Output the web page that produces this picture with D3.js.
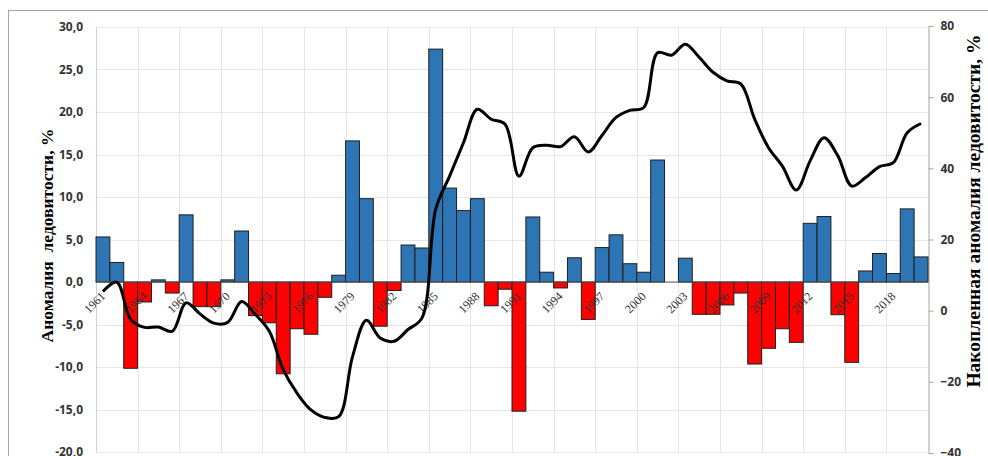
<!DOCTYPE html>
<html>
  <head>
    <meta charset="utf-8" />
    <title>Аномалия ледовитости</title>
    <script src="https://d3js.org/d3.v7.min.js"></script>
    <style>
      body { margin: 0; background: #fff; }
    </style>
  </head>
  <body>
    <svg width="988" height="456"></svg>

    <script>
      // Years 1961-2020
      const years = d3.range(1961, 2021);

      // Annual ice anomaly, % (bars, left axis)
      const anomaly = [
        5.3, 2.3, -10.15, -2.35, 0.25, -1.3, 7.9, -2.9, -2.9, 0.25,
        6.0, -3.95, -4.8, -10.8, -5.5, -6.15, -1.8, 0.8, 16.6, 9.8,
        -5.2, -1.0, 4.35, 4.0, 27.4, 11.05, 8.4, 9.8, -2.8, -0.85,
        -15.2, 7.65, 1.15, -0.7, 2.85, -4.4, 4.05, 5.55, 2.15, 1.15,
        14.35, 0.0, 2.8, -3.8, -3.8, -2.7, -1.3, -9.65, -7.8, -5.5,
        -7.1, 6.9, 7.7, -3.85, -9.45, 1.3, 3.35, 1.0, 8.6, 2.95
      ];

      // Accumulated anomaly, % (line, right axis)
      const accumulated = [
        5.4, 8.0, -2.4, -4.7, -4.6, -5.8, 2.2, -0.9, -3.5, -3.3,
        2.6, -1.1, -5.8, -16.6, -23.2, -27.9, -30.0, -29.8, -12.9, -2.7,
        -7.7, -8.6, -5.3, -2.1, 28.5, 37.8, 47.2, 56.6, 53.8, 52.4,
        37.8, 45.8, 46.5, 46.1, 48.9, 44.6, 49.3, 54.3, 56.3, 57.1,
        72.5, 71.8, 74.9, 71.2, 67.0, 64.6, 63.7, 53.8, 45.8, 40.6,
        33.9, 42.1, 48.6, 43.5, 35.0, 37.4, 40.5, 41.6, 50.0, 52.6
      ];

      const leftTicks = [-20, -15, -10, -5, 0, 5, 10, 15, 20, 25, 30];
      const rightTicks = [-40, -20, 0, 20, 40, 60, 80];
      const labelYears = years.filter((d, i) => i % 3 === 0);

      const leftTitle = "Аномалия  ледовитости, %";
      const rightTitle = "Накопленная аномалия ледовитости, %";

      const svg = d3.select("svg");

      const plotLeft = 96, plotRight = 928;

      const x = d3.scaleBand().domain(years).range([plotLeft, plotRight]).padding(0);
      const yL = d3.scaleLinear().domain([-20, 30]).range([452, 27]);
      const yR = d3.scaleLinear().domain([-40, 80]).range([453, 26]);

      // outer frame
      svg.append("rect")
        .attr("x", 8.5).attr("y", 10.5)
        .attr("width", 1000).attr("height", 500)
        .attr("fill", "#fff")
        .attr("stroke", "#a6a6a6");

      // horizontal gridlines
      svg.append("g")
        .selectAll("line")
        .data(leftTicks)
        .join("line")
        .attr("x1", plotLeft).attr("x2", plotRight)
        .attr("y1", d => Math.round(yL(d)) + 0.5)
        .attr("y2", d => Math.round(yL(d)) + 0.5)
        .attr("stroke", "#e6e6e6");

      // vertical gridlines every 3 years
      svg.append("g")
        .selectAll("line")
        .data(labelYears.slice(1))
        .join("line")
        .attr("x1", d => Math.round(x(d)) + 0.5)
        .attr("x2", d => Math.round(x(d)) + 0.5)
        .attr("y1", yL(30)).attr("y2", yL(-20))
        .attr("stroke", "#e6e6e6");

      // left axis line
      svg.append("line")
        .attr("x1", plotLeft + 0.5).attr("x2", plotLeft + 0.5)
        .attr("y1", yL(30)).attr("y2", yL(-20))
        .attr("stroke", "#d0d0d0");

      // left tick labels
      svg.append("g")
        .selectAll("text")
        .data(leftTicks)
        .join("text")
        .attr("x", plotLeft - 13)
        .attr("y", d => yL(d))
        .attr("dy", "0.35em")
        .attr("text-anchor", "end")
        .style("font-family", "'Open Sans', sans-serif")
        .style("font-weight", "bold")
        .style("font-size", "12px")
        .style("fill", "#333")
        .text(d => d.toFixed(1).replace(".", ","));

      // right axis
      const rightAxis = d3.axisRight(yR).tickValues(rightTicks).tickSize(5).tickPadding(7);
      const ra = svg.append("g")
        .attr("transform", `translate(${plotRight + 0.5},0)`)
        .call(rightAxis);
      ra.select(".domain").attr("stroke", "#a6a6a6");
      ra.selectAll(".tick line").attr("stroke", "#a6a6a6");
      ra.selectAll(".tick text")
        .style("font-family", "'Open Sans', sans-serif")
        .style("font-weight", "bold")
        .style("font-size", "12px")
        .style("fill", "#333");

      // bars
      svg.append("g")
        .selectAll("rect")
        .data(years)
        .join("rect")
        .attr("x", d => x(d))
        .attr("width", x.bandwidth())
        .attr("y", (d, i) => yL(Math.max(0, anomaly[i])))
        .attr("height", (d, i) => Math.abs(yL(anomaly[i]) - yL(0)))
        .attr("fill", (d, i) => anomaly[i] >= 0 ? "#2e75b6" : "#ff0000")
        .attr("stroke", "#1f1f1f")
        .attr("stroke-width", 1);

      // zero line
      svg.append("line")
        .attr("x1", plotLeft).attr("x2", plotRight)
        .attr("y1", yL(0)).attr("y2", yL(0))
        .attr("stroke", "#595959");

      // year labels
      svg.append("g")
        .selectAll("text")
        .data(labelYears)
        .join("text")
        .attr("transform", d => `translate(${x(d) + x.bandwidth() / 2 + 3},${yL(0) + 15}) rotate(-45)`)
        .attr("text-anchor", "end")
        .style("font-family", "'Liberation Serif', serif")
        .style("font-size", "12px")
        .style("fill", "#333")
        .text(d => d);

      // accumulated line
      const line = d3.line()
        .x((d, i) => x(years[i]) + x.bandwidth() / 2)
        .y(d => yR(d))
        .curve(d3.curveCatmullRom.alpha(0.5));

      svg.append("path")
        .datum(accumulated)
        .attr("d", line)
        .attr("fill", "none")
        .attr("stroke", "#000")
        .attr("stroke-width", 3)
        .attr("stroke-linejoin", "round");

      // axis titles
      svg.append("text")
        .attr("transform", `translate(53,${(yL(30) + yL(-20)) / 2 - 4}) rotate(-90)`)
        .attr("text-anchor", "middle")
        .style("font-family", "'Liberation Serif', serif")
        .style("font-weight", "bold")
        .style("font-size", "17.5px")
        .style("fill", "#000")
        .style("white-space", "pre")
        .text(leftTitle);

      svg.append("text")
        .attr("transform", `translate(980,211) rotate(-90)`)
        .attr("text-anchor", "middle")
        .style("font-family", "'Liberation Serif', serif")
        .style("font-weight", "bold")
        .style("font-size", "19.5px")
        .style("fill", "#000")
        .text(rightTitle);
    </script>
  </body>
</html>
